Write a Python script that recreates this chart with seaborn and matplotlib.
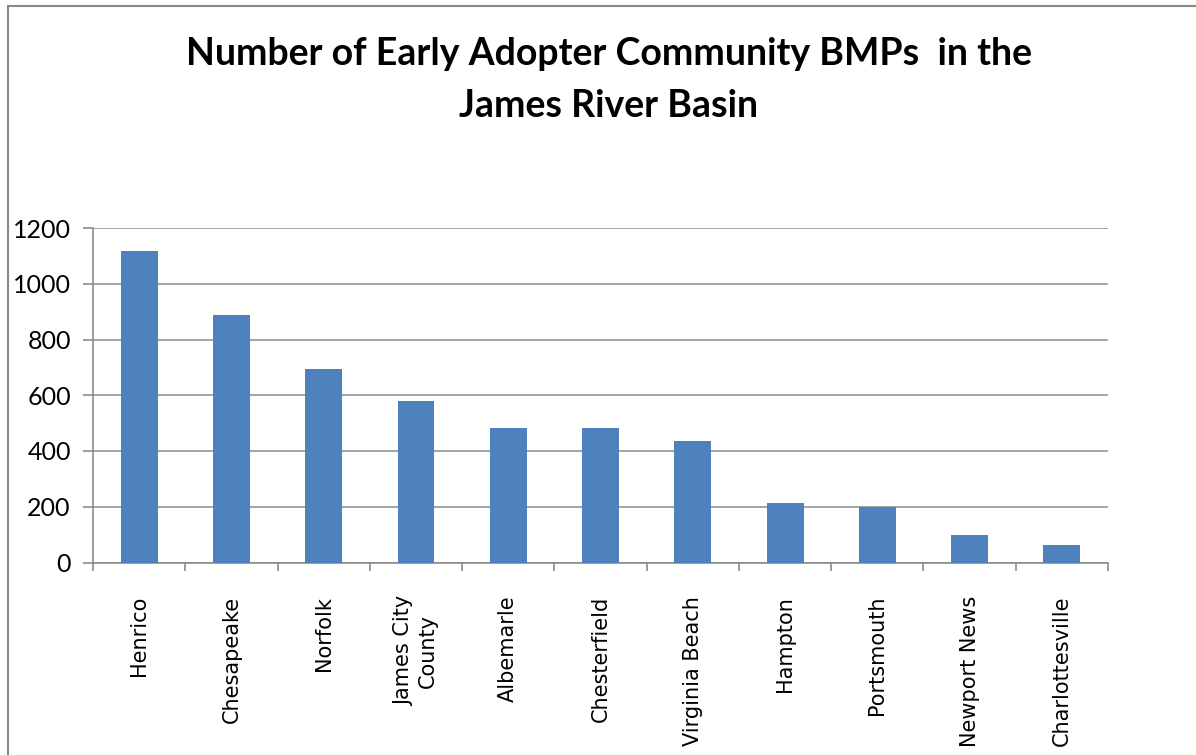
import matplotlib
matplotlib.use("Agg")
import matplotlib.pyplot as plt
from matplotlib.lines import Line2D
import seaborn as sns
import pandas as pd

communities = ["Henrico", "Chesapeake", "Norfolk", "James City\nCounty", "Albemarle",
               "Chesterfield", "Virginia Beach", "Hampton", "Portsmouth",
               "Newport News", "Charlottesville"]
bmp_counts = [1117, 888, 694, 580, 482, 482, 435, 213, 199, 98, 63]
y_ticks = [0, 200, 400, 600, 800, 1000, 1200]
title_text = "Number of Early Adopter Community BMPs  in the\nJames River Basin"

sns.set_theme(style="white")
plt.rcParams["font.family"] = ["Lato", "DejaVu Sans"]
plt.rcParams["text.color"] = "black"
plt.rcParams["xtick.color"] = "black"
plt.rcParams["ytick.color"] = "black"

W, H = 1196, 755
fig = plt.figure(figsize=(W / 100, H / 100), dpi=100)
ax = fig.add_axes([93 / W, 1 - 562.5 / H, (1108 - 93) / W, (562.5 - 228) / H])

df = pd.DataFrame({"community": communities, "count": bmp_counts})
sns.barplot(data=df, x="community", y="count", color="#4f81bd", saturation=1,
            width=0.4, linewidth=0, edgecolor="none", ax=ax, zorder=3)

grid_c = "#8c8c8c"
ax.set_ylim(0, 1200)
ax.set_xlim(-0.5, len(communities) - 0.5)
ax.set_yticks(y_ticks)
ax.set_yticklabels([str(v) for v in y_ticks], fontsize=18, color="black")
ax.yaxis.grid(True, color=grid_c, linewidth=1.1, zorder=0)
ax.set_axisbelow(True)
ax.set_xlabel("")
ax.set_ylabel("")

# category labels at bar centres, tick marks at category boundaries
ax.set_xticks(range(len(communities)))
ax.set_xticklabels(communities, rotation=90, fontsize=15, color="black",
                   family=["DejaVu Sans"], ha="center", va="top",
                   multialignment="center")
ax.set_xticks([i - 0.5 for i in range(len(communities) + 1)], minor=True)
ax.tick_params(axis="x", which="major", length=0, pad=24)
ax.tick_params(axis="x", which="minor", length=6, width=1.2, color=grid_c,
               direction="out", bottom=True)
ax.tick_params(axis="y", which="major", length=7, width=1.2, color=grid_c,
               direction="out", left=True, pad=9)

for side in ["top", "right"]:
    ax.spines[side].set_visible(False)
for side in ["left", "bottom"]:
    ax.spines[side].set_color(grid_c)
    ax.spines[side].set_linewidth(1.2)

fig.text(609 / W, 1 - 80 / H, title_text, ha="center", va="center",
         fontsize=27, fontweight="bold", linespacing=1.62, color="black")

# outer chart border
fig.add_artist(Line2D([8 / W, 8 / W], [0, 1 - 6 / H], transform=fig.transFigure,
                      color="#888888", linewidth=1.5))
fig.add_artist(Line2D([8 / W, 1], [1 - 6 / H, 1 - 6 / H], transform=fig.transFigure,
                      color="#888888", linewidth=1.5))

fig.savefig("out.png", dpi=100, facecolor="white")
